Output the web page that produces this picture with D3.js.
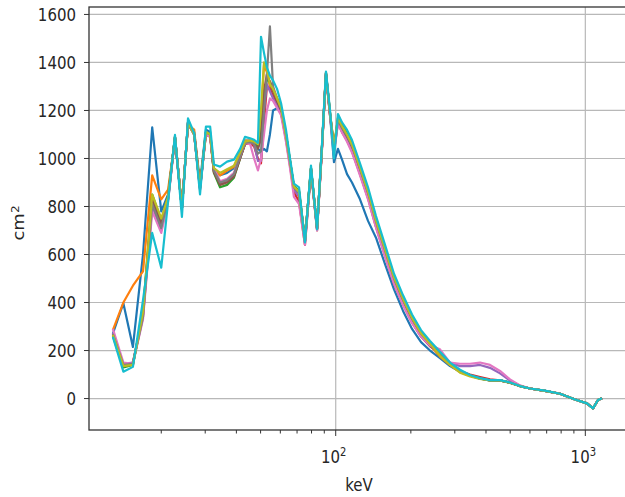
<!DOCTYPE html>
<html>
<head>
<meta charset="utf-8">
<script src="https://cdn.jsdelivr.net/npm/d3@7"></script>
<style>
  body { margin: 0; background: #fff; }
  text { font-family: "DejaVu Sans", sans-serif; fill: #262626; }
</style>
</head>
<body>
<div id="chart"></div>
<script>
// energy grid (keV), shared by all curves
const energy = [
  12.8, 14.1, 15.4, 16.9, 18.4, 20.0, 21.3, 22.7, 24.2, 25.6,
  27.1, 28.6, 30.2, 31.4, 32.5, 34.4, 36.7, 39.1, 41.4, 43.3,
  45.4, 47.1, 48.8, 50.2, 51.6, 53.0, 54.5, 56.1, 58.2, 60.4,
  63.2, 65.6, 68.0, 71.3, 75.3, 79.6, 84.2, 88.1, 91.4, 94.9,
  98.4, 102.1, 106.0, 111.0, 116.2, 125.1, 134.7, 145.0, 157.6, 171.2,
  186.1, 202.2, 219.7, 238.7, 261.7, 287.1, 314.8, 345.2, 378.6, 415.1,
  455.2, 499.2, 547.4, 600.3, 689.6, 792.2, 909.5, 1015.7, 1073.5, 1124.1,
  1166.5,
];

// effective area (cm^2), one array per curve
const area0 = [
  270, 397, 215, 600, 1130, 780, 850, 1085, 790, 1150,
  1110, 900, 1120, 1110, 960, 930, 940, 960, 1020, 1075,
  1075, 1070, 1040, 1030, 1040, 1030, 1100, 1200, 1210, 1190,
  1100, 990, 880, 860, 660, 960, 710, 1050, 1350, 1180,
  985, 1040, 995, 935, 900, 830, 740, 670, 560, 455,
  365, 290, 235, 200, 168, 135, 112, 95, 83, 76,
  75, 66, 52, 42, 32, 20, -4, -20, -41, -6,
  1,
];
const area1 = [
  285, 400, 470, 530, 930, 830, 870, 1080, 800, 1140,
  1120, 880, 1110, 1100, 950, 930, 950, 965, 1030, 1075,
  1075, 1070, 1060, 1160, 1390, 1360, 1300, 1290, 1250, 1210,
  1100, 990, 880, 860, 660, 955, 710, 1050, 1350, 1180,
  1060, 1150, 1115, 1080, 1040, 945, 845, 725, 605, 490,
  400, 322, 262, 222, 175, 140, 110, 95, 85, 77,
  76, 66, 52, 42, 32, 20, -4, -20, -41, -6,
  1,
];
const area2 = [
  260, 130, 140, 360, 850, 740, 840, 1090, 790, 1150,
  1100, 880, 1110, 1100, 940, 880, 890, 920, 1000, 1060,
  1070, 1070, 1050, 1100, 1250, 1330, 1320, 1280, 1250, 1210,
  1100, 990, 885, 865, 660, 960, 710, 1050, 1355, 1190,
  1040, 1170, 1140, 1105, 1065, 965, 865, 745, 625, 508,
  418, 340, 276, 232, 185, 145, 115, 96, 84, 76,
  76, 66, 52, 42, 32, 20, -4, -20, -41, -6,
  1,
];
const area3 = [
  270, 140, 150, 350, 820, 720, 830, 1085, 790, 1145,
  1100, 880, 1100, 1090, 945, 895, 905, 930, 1005, 1060,
  1065, 1050, 1000, 980, 1150, 1300, 1290, 1260, 1230, 1190,
  1080, 970, 860, 820, 640, 950, 700, 1040, 1350, 1180,
  1030, 1150, 1110, 1075, 1030, 935, 835, 715, 595, 480,
  392, 316, 258, 218, 190, 145, 115, 100, 90, 80,
  76, 66, 52, 42, 32, 20, -4, -20, -41, -6,
  1,
];
const area4 = [
  275, 145, 150, 340, 800, 700, 830, 1090, 790, 1150,
  1100, 870, 1110, 1100, 950, 900, 910, 935, 1010, 1065,
  1070, 1060, 990, 990, 1200, 1310, 1280, 1250, 1220, 1190,
  1090, 980, 870, 840, 650, 955, 705, 1045, 1355, 1185,
  1030, 1155, 1118, 1085, 1040, 945, 845, 725, 605, 488,
  398, 320, 260, 220, 185, 150, 135, 135, 140, 128,
  105, 75, 53, 42, 32, 20, -4, -20, -41, -6,
  1,
];
const area5 = [
  265, 135, 145, 350, 830, 730, 835, 1090, 790, 1150,
  1100, 875, 1105, 1095, 945, 890, 900, 925, 1000, 1060,
  1068, 1062, 1040, 1080, 1280, 1350, 1320, 1280, 1240, 1200,
  1090, 985, 880, 860, 655, 958, 708, 1048, 1358, 1188,
  1040, 1160, 1125, 1092, 1050, 955, 855, 735, 615, 498,
  408, 330, 268, 226, 183, 145, 112, 95, 84, 76,
  76, 66, 52, 42, 32, 20, -4, -20, -41, -6,
  1,
];
const area6 = [
  290, 150, 145, 330, 780, 690, 820, 1085, 790, 1150,
  1100, 870, 1100, 1090, 960, 905, 915, 940, 1010, 1065,
  1060, 1000, 950, 1000, 1100, 1200, 1250, 1240, 1210, 1180,
  1070, 960, 840, 810, 640, 950, 700, 1040, 1350, 1180,
  1020, 1145, 1108, 1070, 1025, 930, 830, 712, 592, 478,
  390, 315, 258, 222, 205, 150, 145, 145, 150, 140,
  115, 80, 55, 42, 32, 20, -4, -20, -41, -6,
  1,
];
const area7 = [
  270, 140, 145, 340, 810, 710, 830, 1090, 790, 1150,
  1100, 875, 1110, 1100, 950, 900, 910, 935, 1010, 1065,
  1068, 1060, 1020, 1030, 1200, 1350, 1550, 1300, 1250, 1210,
  1095, 985, 880, 855, 655, 958, 708, 1048, 1358, 1188,
  1040, 1160, 1126, 1094, 1052, 957, 857, 737, 617, 500,
  410, 332, 270, 228, 183, 145, 112, 95, 84, 76,
  76, 66, 52, 42, 32, 20, -4, -20, -41, -6,
  1,
];
const area8 = [
  265, 135, 140, 360, 850, 750, 840, 1090, 790, 1150,
  1100, 880, 1110, 1100, 960, 940, 955, 970, 1025, 1070,
  1075, 1070, 1060, 1200, 1400, 1370, 1310, 1290, 1250, 1210,
  1100, 990, 882, 862, 658, 960, 710, 1050, 1355, 1190,
  1050, 1168, 1135, 1100, 1058, 962, 862, 742, 622, 505,
  415, 336, 272, 228, 178, 140, 108, 92, 82, 76,
  76, 66, 52, 42, 32, 20, -4, -20, -41, -6,
  1,
];
const area9 = [
  257, 112, 132, 410, 690, 545, 820, 1098, 757, 1167,
  1105, 850, 1133, 1133, 975, 966, 987, 995, 1040, 1090,
  1084, 1078, 1065, 1507, 1440, 1380, 1345, 1325, 1290, 1230,
  1120, 1000, 895, 880, 650, 970, 705, 1060, 1362, 1200,
  1000, 1185, 1150, 1119, 1077, 980, 880, 760, 640, 520,
  430, 350, 285, 240, 195, 150, 120, 98, 85, 77,
  77, 67, 52, 42, 33, 20, -4, -20, -41, -6,
  1,
];

const curves = [area0, area1, area2, area3, area4, area5, area6, area7, area8, area9];
const colors = d3.schemeCategory10;

const yTicks = [0, 200, 400, 600, 800, 1000, 1200, 1400, 1600];
const xMajor = [100, 1000];
const xMajorExp = ["2", "3"];
const xMinor = [20, 30, 40, 50, 60, 70, 80, 90, 200, 300, 400, 500, 600, 700, 800, 900];

const width = 625;
const height = 497;
const plot = { left: 89, right: 636, top: 7, bottom: 430 };

const svg = d3
  .select("#chart")
  .append("svg")
  .attr("width", width)
  .attr("height", height);

const x = d3.scaleLog().domain([10.27, 1596]).range([plot.left, plot.right]);
const y = d3.scaleLinear().domain([-131, 1631]).range([plot.bottom, plot.top]);

svg
  .append("clipPath")
  .attr("id", "clip")
  .append("rect")
  .attr("x", plot.left)
  .attr("y", plot.top)
  .attr("width", plot.right - plot.left)
  .attr("height", plot.bottom - plot.top);

// grid
const grid = svg.append("g").attr("stroke", "#b8b8b8").attr("stroke-width", 1.2);
grid
  .selectAll("line.h")
  .data(yTicks)
  .enter()
  .append("line")
  .attr("x1", plot.left)
  .attr("x2", plot.right)
  .attr("y1", (d) => y(d))
  .attr("y2", (d) => y(d));
grid
  .selectAll("line.v")
  .data(xMajor)
  .enter()
  .append("line")
  .attr("y1", plot.top)
  .attr("y2", plot.bottom)
  .attr("x1", (d) => x(d))
  .attr("x2", (d) => x(d));

// curves
const line = d3
  .line()
  .x((d, i) => x(energy[i]))
  .y((d) => y(d));

svg
  .append("g")
  .attr("clip-path", "url(#clip)")
  .selectAll("path")
  .data(curves)
  .enter()
  .append("path")
  .attr("d", line)
  .attr("fill", "none")
  .attr("stroke", (d, i) => colors[i])
  .attr("stroke-width", 2.2)
  .attr("stroke-linejoin", "round");

// spines
svg
  .append("rect")
  .attr("x", plot.left)
  .attr("y", plot.top)
  .attr("width", plot.right - plot.left)
  .attr("height", plot.bottom - plot.top)
  .attr("fill", "none")
  .attr("stroke", "#333")
  .attr("stroke-width", 1.3);

// y axis ticks + labels
const yAxis = svg.append("g");
yAxis
  .selectAll("line")
  .data(yTicks)
  .enter()
  .append("line")
  .attr("x1", plot.left - 5)
  .attr("x2", plot.left)
  .attr("y1", (d) => y(d))
  .attr("y2", (d) => y(d))
  .attr("stroke", "#333");
yAxis
  .selectAll("text")
  .data(yTicks)
  .enter()
  .append("text")
  .attr("transform", (d) => `translate(${plot.left - 13},${y(d)}) scale(1,1.2)`)
  .attr("text-anchor", "end")
  .attr("dy", "0.36em")
  .attr("font-size", 15)
  .text((d) => d);

// x axis ticks + labels
const xAxis = svg.append("g");
xAxis
  .selectAll("line.major")
  .data(xMajor)
  .enter()
  .append("line")
  .attr("class", "major")
  .attr("x1", (d) => x(d))
  .attr("x2", (d) => x(d))
  .attr("y1", plot.bottom)
  .attr("y2", plot.bottom + 6)
  .attr("stroke", "#333");
xAxis
  .selectAll("line.minor")
  .data(xMinor)
  .enter()
  .append("line")
  .attr("class", "minor")
  .attr("x1", (d) => x(d))
  .attr("x2", (d) => x(d))
  .attr("y1", plot.bottom)
  .attr("y2", plot.bottom + 3.5)
  .attr("stroke", "#333");
const xLabels = xAxis
  .selectAll("text")
  .data(xMajor)
  .enter()
  .append("text")
  .attr("transform", (d) => `translate(${x(d) - 2},${plot.bottom + 33}) scale(1,1.2)`)
  .attr("text-anchor", "middle")
  .attr("font-size", 15);
xLabels.append("tspan").text("10");
xLabels
  .append("tspan")
  .attr("dy", "-0.55em")
  .attr("font-size", 10)
  .text((d, i) => xMajorExp[i]);

// axis titles
svg
  .append("text")
  .attr("transform", `translate(359,491) scale(1,1.2)`)
  .attr("text-anchor", "middle")
  .attr("font-size", 15)
  .text("keV");

const yTitle = svg
  .append("text")
  .attr("transform", `translate(24,223) rotate(-90) scale(1.2,1)`)
  .attr("text-anchor", "middle")
  .attr("font-size", 15);
yTitle.append("tspan").text("cm");
yTitle.append("tspan").attr("dy", "-0.55em").attr("font-size", 10).text("2");
</script>
</body>
</html>
